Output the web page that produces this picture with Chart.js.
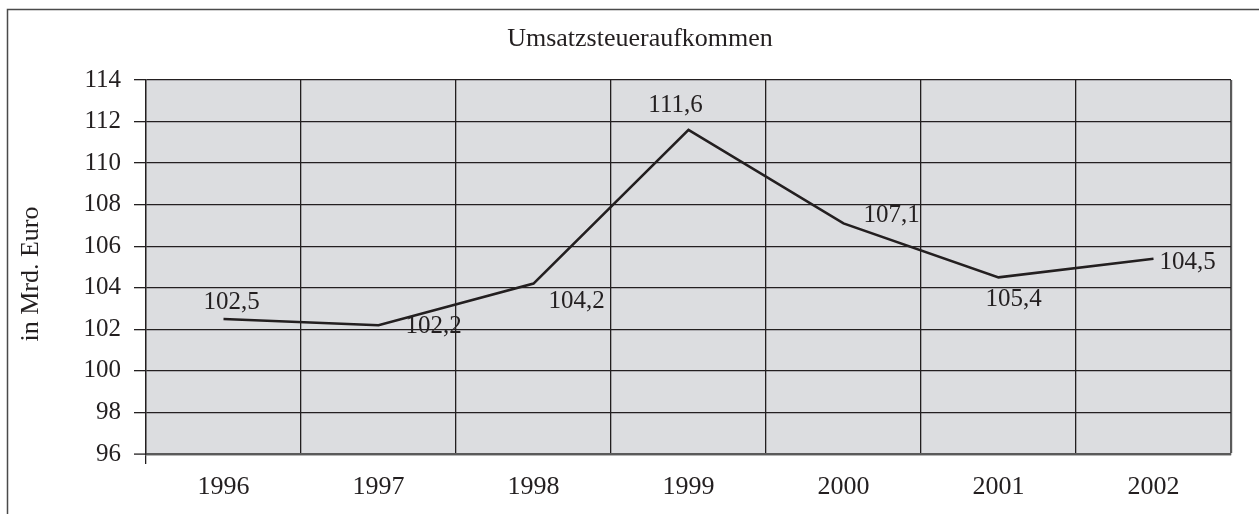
<!DOCTYPE html>
<html><head><meta charset="utf-8">
<script src="https://cdn.jsdelivr.net/npm/chart.js@4/dist/chart.umd.min.js"></script>
<style>html,body{margin:0;padding:0;background:#fff;overflow:hidden}canvas{display:block}</style>
</head><body>
<canvas id="c" width="1259" height="514"></canvas>
<script>
// ---- data ----
const years = ['1996', '1997', '1998', '1999', '2000', '2001', '2002'];
const umsatz = [102.5, 102.2, 104.2, 111.6, 107.1, 104.5, 105.4];
const pointLabels = ['102,5', '102,2', '104,2', '111,6', '107,1', '105,4', '104,5'];
const yMin = 96;
const yMax = 114;
const yStep = 2;
const chartTitle = 'Umsatzsteueraufkommen';
const yTitle = 'in Mrd. Euro';

// ---- style ----
const INK = '#231f20';
const EDGE = '#5a5a5a';
const PLOT_BG = '#dcdde0';
const FONT = '"Liberation Serif", "Times New Roman", serif';
const labelOffsets = [[8, -17], [55, 1], [43, 18], [-13, -24], [48, -8], [15, 22], [34, 4]];

const decor = {
  id: 'decor',
  beforeDraw(chart) {
    const ctx = chart.ctx, a = chart.chartArea;
    ctx.save();
    ctx.fillStyle = '#fff';
    ctx.fillRect(0, 0, chart.width, chart.height);
    ctx.fillStyle = PLOT_BG;
    ctx.fillRect(a.left, a.top, a.right - a.left, a.bottom - a.top);
    // outer frame (top + left visible)
    ctx.strokeStyle = '#4a4a4a';
    ctx.lineWidth = 1.5;
    ctx.beginPath();
    ctx.moveTo(7.5, chart.height);
    ctx.lineTo(7.5, 9.5);
    ctx.lineTo(chart.width, 9.5);
    ctx.stroke();
    ctx.restore();
  },
  afterDraw(chart) {
    const ctx = chart.ctx;
    ctx.save();
    ctx.fillStyle = INK;
    ctx.textAlign = 'center';
    ctx.textBaseline = 'middle';
    ctx.font = '26px ' + FONT;
    ctx.fillText(chartTitle, 640, 39);
    ctx.translate(31, 274);
    ctx.rotate(-Math.PI / 2);
    ctx.fillText(yTitle, 0, 0);
    ctx.restore();
  },
  afterDatasetsDraw(chart) {
    const ctx = chart.ctx;
    const meta = chart.getDatasetMeta(0);
    ctx.save();
    ctx.fillStyle = INK;
    ctx.textAlign = 'center';
    ctx.textBaseline = 'middle';
    ctx.font = '25px ' + FONT;
    meta.data.forEach((pt, i) => {
      const [dx, dy] = labelOffsets[i];
      ctx.fillText(pointLabels[i], pt.x + dx, pt.y + dy);
    });
    ctx.restore();
  }
};

new Chart(document.getElementById('c'), {
  type: 'line',
  data: {
    labels: years,
    datasets: [{
      data: umsatz,
      borderColor: INK,
      borderWidth: 2.6,
      pointRadius: 0,
      tension: 0,
      fill: false
    }]
  },
  options: {
    responsive: false,
    animation: false,
    devicePixelRatio: 1,
    layout: { padding: { left: 0, top: 80, right: 28, bottom: 0 } },
    plugins: { legend: { display: false }, title: { display: false }, tooltip: { enabled: false } },
    scales: {
      x: {
        type: 'category',
        offset: true,
        afterFit(s) { s.height = 60; },
        grid: {
          offset: true,
          color: c => (c.type === 'tick' ? INK : EDGE),
          lineWidth: c => (c.type === 'tick' ? 1.3 : 2.2),
          drawTicks: true,
          tickLength: 10,
          tickColor: c => (c.type === 'tick' && c.index === 0 ? INK : 'rgba(0,0,0,0)'),
          tickWidth: 1.3
        },
        border: { display: true, color: EDGE, width: 2.2 },
        ticks: {
          color: INK,
          font: { family: FONT, size: 26 },
          padding: 8,
          maxRotation: 0
        }
      },
      y: {
        min: yMin,
        max: yMax,
        afterFit(s) { s.width = 146; },
        grid: {
          color: c => (c.tick && c.tick.value === yMin ? EDGE : INK),
          lineWidth: c => (c.tick && c.tick.value === yMin ? 2.2 : 1.3),
          drawTicks: true,
          tickLength: 12,
          tickColor: INK,
          tickWidth: 1.3
        },
        border: { display: true, color: INK, width: 1.3 },
        ticks: {
          stepSize: yStep,
          color: INK,
          font: { family: FONT, size: 25 },
          padding: 13
        }
      }
    }
  },
  plugins: [decor]
});
</script>
</body></html>
